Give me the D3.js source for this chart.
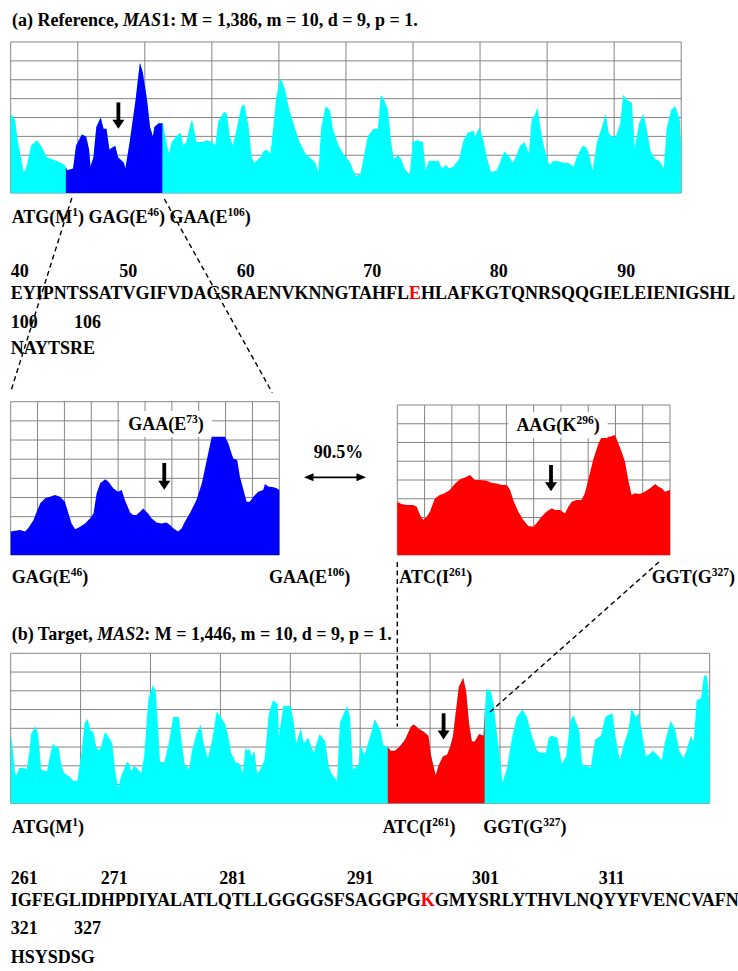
<!DOCTYPE html>
<html>
<head>
<meta charset="utf-8">
<script src="https://cdn.jsdelivr.net/npm/d3@7"></script>
<style>
  body { margin: 0; background: #fff; }
  svg text { font-family: "Liberation Serif", "Times New Roman", serif; font-weight: bold; font-size: 18px; fill: #000; }
</style>
</head>
<body>
<svg id="fig" width="738" height="971"></svg>
<script>
// Profile of the reference gene MAS1, position in codons -> signal value
const refProfile = [
  [0,42],[3,39],[5,27],[9,11],[11,14],[14,25],[18,28],[21,25],[25,19],[28,18],[32,17],[37,15],[39,12],[43,13],
  [45,25],[49,31],[52,30],[54,23],[55,14],[57,19],[59,35],[62,40],[64,34],[66,34],[68,23],[72,25],[74,19],[78,16],
  [79,13],[82,27],[86,49],[89,69],[91,64],[94,49],[96,35],[98,30],[99,35],[102,37],[105,37],[106,32],[109,21],[111,27],
  [114,30],[117,32],[119,25],[121,27],[124,37],[125,39],[128,27],[132,27],[135,28],[139,27],[141,25],[143,38],[147,43],
  [149,42],[151,30],[153,25],[156,35],[159,46],[161,47],[164,35],[166,19],[168,16],[172,19],[174,22],[176,23],[179,21],
  [181,35],[183,51],[186,61],[189,55],[192,44],[196,34],[199,27],[203,21],[206,19],[210,16],[212,11],[214,35],[217,46],
  [220,44],[222,34],[226,25],[229,21],[234,16],[236,12],[238,9],[241,10],[243,18],[246,30],[250,34],[253,34],[255,52],
  [257,50],[260,44],[262,28],[264,18],[267,20],[269,18],[272,12],[275,10],[277,27],[280,28],[284,27],[286,12],[288,17],
  [291,17],[295,17],[297,13],[300,15],[302,13],[305,14],[309,18],[312,28],[315,32],[319,33],[320,30],[323,35],[326,27],
  [328,19],[331,11],[335,12],[337,16],[340,22],[343,20],[346,16],[349,21],[351,25],[354,27],[357,21],[359,39],[361,41],
  [363,45],[366,30],[368,23],[371,15],[374,17],[377,17],[381,16],[384,16],[388,14],[390,19],[394,25],[397,24],[399,19],
  [401,12],[404,27],[407,34],[410,42],[412,32],[414,30],[417,30],[420,37],[422,52],[425,49],[428,48],[430,24],[433,37],
  [436,42],[438,35],[441,22],[444,18],[447,17],[450,13],[452,34],[455,44],[458,46],[461,39],[462,25]
];

// Profile of the target gene MAS2
const tgtProfile = [
  [0,37],[1,32],[3,16],[4,15],[6,19],[9,19],[11,18],[13,28],[14,37],[17,41],[19,37],[21,18],[25,17],[27,25],[29,32],
  [31,30],[33,30],[35,20],[37,16],[41,14],[43,12],[46,12],[49,28],[51,43],[53,45],[55,39],[57,38],[59,30],[61,28],
  [63,32],[65,38],[67,36],[70,32],[72,18],[74,8],[76,14],[78,18],[80,22],[82,21],[83,17],[85,20],[87,19],[90,16],
  [92,25],[95,56],[98,63],[100,60],[102,36],[103,22],[106,22],[109,32],[112,46],[116,46],[118,32],[120,21],[123,18],
  [125,28],[128,37],[131,42],[133,32],[136,24],[139,34],[142,49],[145,46],[148,42],[150,36],[152,27],[155,22],[158,21],
  [160,16],[162,30],[163,28],[165,29],[166,25],[168,28],[170,16],[172,18],[175,23],[178,48],[181,55],[184,53],[185,36],
  [188,52],[193,52],[195,44],[197,32],[200,40],[202,32],[205,35],[209,27],[213,37],[217,33],[219,21],[221,16],[225,12],
  [227,43],[232,52],[234,46],[236,18],[240,21],[241,31],[244,26],[248,36],[251,45],[255,39],[257,31],[260,30],[262,28],
  [265,28],[269,31],[272,34],[276,41],[278,42],[281,40],[285,38],[288,36],[290,25],[293,15],[295,20],[298,25],[301,26],
  [303,30],[305,36],[309,62],[312,67],[314,60],[316,43],[318,33],[320,33],[323,37],[326,36],[327,50],[328,61],[331,60],
  [333,53],[335,39],[338,20],[339,11],[342,18],[346,36],[349,46],[353,50],[356,46],[359,37],[363,28],[366,27],[369,27],
  [371,35],[373,36],[377,35],[380,21],[383,25],[386,44],[388,47],[392,39],[394,21],[397,20],[400,19],[403,34],[407,36],
  [410,46],[412,47],[415,48],[417,36],[420,23],[423,32],[426,39],[428,51],[431,46],[433,48],[435,39],[438,25],[440,26],
  [443,28],[447,25],[449,23],[451,32],[455,44],[458,40],[461,28],[464,24],[466,28],[469,36],[471,33],[473,55],[476,56],
  [478,68],[480,68],[481,62],[482,49]
];

// Zoomed segments (E46-E106 of MAS1, I261-G327 of MAS2)
const refZoom = [
  [46.0,12.2],[47.0,12.7],[48.1,13.0],[49.2,12.2],[49.9,13.9],[51.1,18.3],[51.8,22.6],[52.6,27.0],[53.7,29.6],[54.8,30.4],
  [55.9,31.3],[57.0,30.4],[58.1,27.8],[58.9,21.7],[59.6,16.5],[60.4,13.4],[61.5,14.8],[62.6,16.5],[63.7,19.1],[64.5,21.7],
  [65.2,32.2],[66.0,37.4],[67.1,39.5],[67.8,38.3],[68.9,34.8],[70.0,33.0],[70.8,33.9],[71.5,28.7],[72.7,22.1],[73.4,20.9],
  [74.1,20.9],[74.9,22.6],[75.6,24.3],[76.7,21.7],[77.5,19.1],[78.6,16.9],[79.7,16.5],[80.8,16.9],[81.6,15.7],[82.3,13.9],
  [83.4,12.2],[84.2,13.9],[84.9,17.4],[86.0,21.7],[87.5,28.7],[88.7,37.4],[89.8,49.6],[90.9,61.7],[92.0,61.7],[93.9,61.7],
  [94.6,58.3],[95.7,50.4],[96.6,49.6],[97.2,40.9],[98.0,33.9],[98.7,27.8],[99.4,27.8],[100.2,30.4],[101.3,33.0],[102.4,33.9],
  [102.8,37.0],[103.5,35.7],[104.7,35.3],[105.4,34.8],[106.0,33.9]
];
const tgtZoom = [
  [261.0,28.4],[262.0,27.2],[263.3,26.7],[264.9,26.7],[265.7,25.8],[266.5,21.3],[267.3,18.7],[268.1,20.4],[268.9,23.1],
  [270.1,30.2],[271.3,32.0],[272.5,32.9],[273.7,34.7],[275.0,38.2],[276.2,40.4],[277.4,41.4],[278.6,42.7],[279.8,40.0],
  [281.0,40.0],[282.6,39.6],[283.8,38.6],[285.0,38.2],[286.3,37.3],[287.5,37.3],[288.3,34.7],[289.2,28.4],[290.3,23.1],
  [291.5,18.7],[292.7,15.5],[293.9,15.1],[294.7,16.9],[295.9,20.4],[297.1,23.1],[298.4,24.9],[299.2,24.0],[300.4,24.0],
  [301.6,22.2],[302.4,25.8],[303.2,28.4],[304.4,29.3],[305.6,29.3],[306.4,32.9],[307.2,40.0],[308.4,50.7],[309.7,59.6],
  [310.5,63.1],[312.5,63.1],[313.7,64.0],[314.5,59.6],[315.3,55.1],[316.1,49.8],[316.9,40.0],[317.7,32.0],[318.5,32.9],
  [319.7,32.5],[320.9,33.8],[322.2,35.6],[323.4,37.9],[324.2,36.4],[325.0,35.6],[325.8,33.8],[327.0,34.7]
];

// Domains, highlighted windows and arrow marks (codon units)
const refDomain = [0, 462], tgtDomain = [0, 482];
const refWindow = [38, 104.5], tgtWindow = [260, 326.8];
const refArrow = 74.2, tgtArrow = 298.5, refZoomArrow = 80.3, tgtZoomArrow = 298.2;
const arrowSpan = [48, 34];
const valueDomain = [0, 80];
const identity = "90.5%";

// Sequences with the marked residue
const refSeq = ["EYIPNTSSATVGIFVDAGSRAENVKNNGTAHFL", "E", "HLAFKGTQNRSQQGIELEIENIGSHL"];
const refSeqTail = "NAYTSRE";
const refTicks = [40, 50, 60, 70, 80, 90], refTailTicks = [100, 106];
const tgtSeq = ["IGFEGLIDHPDIYALATLQTLLGGGGSFSAGGPG", "K", "GMYSRLYTHVLNQYYFVENCVAFN"];
const tgtSeqTail = "HSYSDSG";
const tgtTicks = [261, 271, 281, 291, 301, 311], tgtTailTicks = [321, 327];

// Layout
const frameA = {x: 10.7, y: 42, w: 670.5, h: 151};
const frameB = {x: 10.7, y: 653.3, w: 699, h: 150};
const frameZA = {x: 10.7, y: 401.7, w: 268.6, h: 153.3};
const frameZB = {x: 397.3, y: 405, w: 272.7, h: 150};
const refTickX = [10.7, 119.3, 236.7, 363.3, 489.7, 617.3], tailTickX = [10.7, 74];
const tgtTickX = [10.7, 100.7, 219.3, 346.7, 472, 598.7];
const refRows = [276.5, 298.5, 328, 354], tgtRows = [884, 906, 934, 963];

const CYAN = "#00ffff", BLUE = "#0000ff", RED = "#ff0000";
const svg = d3.select("#fig");

// Write a line of text made of parts (plain, italic, superscript, coloured)
function richText(g, x, y, parts) {
  const t = g.append("text").attr("x", x).attr("y", y);
  let up = false;
  parts.forEach(p => {
    const s = t.append("tspan").text(p.t);
    if (p.sup) { s.attr("dy", -7).style("font-size", "11.5px"); up = true; }
    else if (up) { s.attr("dy", 7); up = false; }
    if (p.it) s.style("font-style", "italic");
    if (p.fill) s.style("fill", p.fill);
  });
  return t;
}

function downArrow(g, x, yTop, yBot) {
  g.append("rect").attr("x", x - 1.9).attr("y", yTop).attr("width", 3.8).attr("height", yBot - yTop - 7).attr("fill", "#000");
  g.append("path").attr("d", `M${x - 6},${yBot - 9}L${x + 6},${yBot - 9}L${x},${yBot}Z`).attr("fill", "#000");
}

// Draw one profile panel: grid, filled area, highlighted window, arrow
function drawProfile(id, frame, data, domain, color, win, winColor, arrowAt) {
  const x = d3.scaleLinear().domain(domain).range([frame.x, frame.x + frame.w]);
  const y = d3.scaleLinear().domain(valueDomain).range([frame.y + frame.h, frame.y]);
  const g = svg.append("g");

  const xt = d3.range(11).map(i => domain[0] + i * (domain[1] - domain[0]) / 10);
  const yt = d3.range(0, 81, 10);
  g.selectAll(".vg").data(xt).enter().append("line")
    .attr("x1", d => x(d)).attr("x2", d => x(d)).attr("y1", y(80)).attr("y2", y(0))
    .attr("stroke", "#858585").attr("stroke-width", 1);
  g.selectAll(".hg").data(yt).enter().append("line")
    .attr("x1", x(domain[0])).attr("x2", x(domain[1])).attr("y1", d => y(d)).attr("y2", d => y(d))
    .attr("stroke", "#858585").attr("stroke-width", 1);

  const area = d3.area().x(d => x(d[0])).y0(y(0)).y1(d => y(d[1]));
  g.append("path").datum(data).attr("d", area).attr("fill", color);

  if (win) {
    svg.append("clipPath").attr("id", id + "-clip").append("rect")
      .attr("x", x(win[0])).attr("y", frame.y - 5).attr("width", x(win[1]) - x(win[0])).attr("height", frame.h + 10);
    g.append("path").datum(data).attr("d", area).attr("fill", winColor).attr("clip-path", `url(#${id}-clip)`);
  }
  downArrow(g, x(arrowAt), y(arrowSpan[0]), y(arrowSpan[1]));
  return {x, y, g};
}

const A = drawProfile("a", frameA, refProfile, refDomain, CYAN, refWindow, BLUE, refArrow);
const B = drawProfile("b", frameB, tgtProfile, tgtDomain, CYAN, tgtWindow, RED, tgtArrow);
const ZA = drawProfile("za", frameZA, refZoom, [46, 106], BLUE, null, null, refZoomArrow);
const ZB = drawProfile("zb", frameZB, tgtZoom, [261, 327], RED, null, null, tgtZoomArrow);

// Boxed codon labels inside the zoomed panels
function boxedLabel(cx, y, parts) {
  const t = richText(svg, 0, y, parts).attr("text-anchor", "start");
  const w = t.node().getComputedTextLength();
  t.attr("x", cx - w / 2);
  const bb = t.node().getBBox();
  svg.insert("rect", () => t.node()).attr("x", bb.x - 8).attr("y", bb.y - 2)
    .attr("width", bb.width + 16).attr("height", bb.height + 4).attr("fill", "#fff");
}
boxedLabel(166, 430, [{t: "GAA(E"}, {t: "73", sup: true}, {t: ")"}]);
boxedLabel(558, 431, [{t: "AAG(K"}, {t: "296", sup: true}, {t: ")"}]);

// Dashed connectors
const dash = svg.append("g").attr("stroke", "#000").attr("stroke-width", 1.4).attr("stroke-dasharray", "5,3.5").attr("fill", "none");
const conn = [
  [[A.x(refWindow[0]) + 6, frameA.y + frameA.h + 5], [frameZA.x, frameZA.y - 10]],
  [[A.x(refWindow[1]) + 2, frameA.y + frameA.h + 6], [frameZA.x + frameZA.w - 7, frameZA.y - 9]],
  [[frameZB.x, frameZB.y + frameZB.h + 7], [frameZB.x, B.y(41)]],
  [[frameZB.x + frameZB.w - 11, frameZB.y + frameZB.h + 7], [B.x(330.5), B.y(48.7)]]
];
dash.selectAll("line").data(conn).enter().append("line")
  .attr("x1", d => d[0][0]).attr("y1", d => d[0][1]).attr("x2", d => d[1][0]).attr("y2", d => d[1][1]);

// Titles
richText(svg, 12, 26, [{t: "(a) Reference, "}, {t: "MAS", it: true}, {t: "1: M = 1,386, m = 10, d = 9, p = 1."}]);
richText(svg, 11.7, 640, [{t: "(b) Target, "}, {t: "MAS", it: true}, {t: "2: M = 1,446, m = 10, d = 9, p = 1."}]);

// Codon labels
richText(svg, 11.7, 222.7, [{t: "ATG(M"}, {t: "1", sup: true}, {t: ") GAG(E"}, {t: "46", sup: true}, {t: ") GAA(E"}, {t: "106", sup: true}, {t: ")"}]);
richText(svg, 11.7, 582.7, [{t: "GAG(E"}, {t: "46", sup: true}, {t: ")"}]);
richText(svg, 269, 582.7, [{t: "GAA(E"}, {t: "106", sup: true}, {t: ")"}]);
richText(svg, 399.3, 582.7, [{t: "ATC(I"}, {t: "261", sup: true}, {t: ")"}]);
richText(svg, 651.7, 582.7, [{t: "GGT(G"}, {t: "327", sup: true}, {t: ")"}]);
richText(svg, 11.7, 833, [{t: "ATG(M"}, {t: "1", sup: true}, {t: ")"}]);
richText(svg, 382.7, 833, [{t: "ATC(I"}, {t: "261", sup: true}, {t: ")"}]);
richText(svg, 483.3, 833, [{t: "GGT(G"}, {t: "327", sup: true}, {t: ")"}]);

// Identity between the two zoomed segments
svg.append("text").attr("x", 338.5).attr("y", 458).attr("text-anchor", "middle").text(identity);
const ax0 = 304, ax1 = 366, ay = 477.3;
svg.append("line").attr("x1", ax0 + 6).attr("x2", ax1 - 6).attr("y1", ay).attr("y2", ay).attr("stroke", "#000").attr("stroke-width", 1.8);
svg.append("path").attr("d", `M${ax0},${ay}L${ax0 + 9.5},${ay - 4}L${ax0 + 9.5},${ay + 4}Z M${ax1},${ay}L${ax1 - 9.5},${ay - 4}L${ax1 - 9.5},${ay + 4}Z`).attr("fill", "#000");

// Sequences
function drawSeq(ticks, tickX, rows, seq, tailTicks, tail) {
  ticks.forEach((n, i) => svg.append("text").attr("x", tickX[i]).attr("y", rows[0]).text(n));
  richText(svg, 10.7, rows[1], [{t: seq[0]}, {t: seq[1], fill: RED}, {t: seq[2]}]);
  tailTicks.forEach((n, i) => svg.append("text").attr("x", tailTickX[i]).attr("y", rows[2]).text(n));
  svg.append("text").attr("x", 10.7).attr("y", rows[3]).text(tail);
}
drawSeq(refTicks, refTickX, refRows, refSeq, refTailTicks, refSeqTail);
drawSeq(tgtTicks, tgtTickX, tgtRows, tgtSeq, tgtTailTicks, tgtSeqTail);
</script>
</body>
</html>
